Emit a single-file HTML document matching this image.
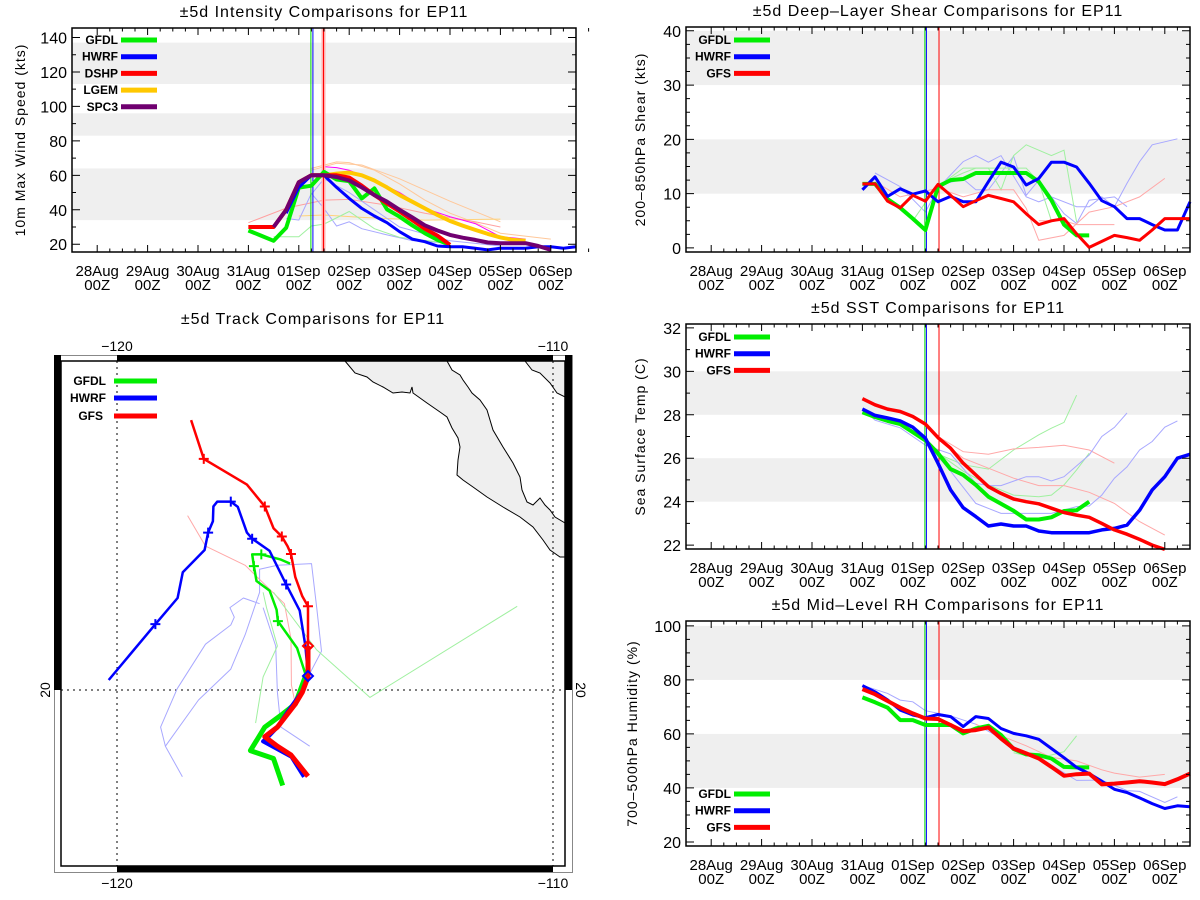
<!DOCTYPE html>
<html><head><meta charset="utf-8"><title>EP11 comparisons</title>
<style>
html,body{margin:0;padding:0;background:#fff;}
svg{display:block;font-family:"Liberation Sans",sans-serif;}
</style></head>
<body>
<svg id="fig" width="1200" height="900" viewBox="0 0 1200 900" xmlns="http://www.w3.org/2000/svg">
<rect x="0" y="0" width="1200" height="900" fill="#fff"/>
<g id="trackStatic">
  <text x="313" y="324" font-size="16" text-anchor="middle" letter-spacing="1">±5d Track Comparisons for EP11</text>
  <path d="M345,361 L355,373 L367,377 L373,382 L383,387 L393,393 L402,392 L410,393 L412,387 L413,393 L427,403 L440,412 L447,417 L452,428 L458,438 L460,447 L458,460 L457,475 L463,480 L473,487 L487,497 L503,507 L520,517 L533,527 L543,540 L550,550 L560,557 L565,557 L565,523 L555,517 L550,510 L545,505 L540,498 L533,505 L527,502 L522,490 L520,477 L513,463 L503,447 L493,430 L487,410 L480,400 L472,393 L468,387 L463,380 L460,375 L452,370 L447,361 Z" fill="#efefef" stroke="#000" stroke-width="1"/>
  <path d="M525,361 L532,370 L540,373 L550,383 L557,393 L565,397 L565,361 Z" fill="#efefef" stroke="#000" stroke-width="1"/>
  <rect x="54.5" y="355.5" width="518" height="517" fill="none" stroke="#888" stroke-width="1"/>
  <rect x="61" y="361" width="504" height="505" fill="none" stroke="#000" stroke-width="1.5"/>
  <rect x="54" y="355" width="7" height="335" fill="#000"/>
  <rect x="565" y="355" width="7" height="335" fill="#000"/>
  <rect x="117" y="355" width="436" height="6" fill="#000"/>
  <rect x="117" y="866" width="436" height="6" fill="#000"/>
  <line x1="117" y1="361" x2="117" y2="866" stroke="#000" stroke-dasharray="2,4"/>
  <line x1="553" y1="361" x2="553" y2="866" stroke="#000" stroke-dasharray="2,4"/>
  <line x1="61" y1="690" x2="565" y2="690" stroke="#000" stroke-dasharray="2,4"/>
  <text x="117" y="351" font-size="14" text-anchor="middle">−120</text>
  <text x="553" y="351" font-size="14" text-anchor="middle">−110</text>
  <text x="117" y="888" font-size="14" text-anchor="middle">−120</text>
  <text x="553" y="888" font-size="14" text-anchor="middle">−110</text>
  <text transform="translate(50,690) rotate(-90)" font-size="14" text-anchor="middle">20</text>
  <text transform="translate(576,690) rotate(90)" font-size="14" text-anchor="middle">20</text>
  <g font-size="12" font-weight="bold">
    <text x="106" y="385" text-anchor="end">GFDL</text>
    <line x1="114" y1="381" x2="157" y2="381" stroke="#00ee00" stroke-width="5"/>
    <text x="106" y="402" text-anchor="end">HWRF</text>
    <line x1="114" y1="398" x2="157" y2="398" stroke="#0000ff" stroke-width="5"/>
    <text x="103" y="420" text-anchor="end">GFS</text>
    <line x1="114" y1="416" x2="157" y2="416" stroke="#ff0000" stroke-width="5"/>
  </g>
</g>
<g id="dyn"></g>
</svg>
<script>
const NS='http://www.w3.org/2000/svg';
const dayLabels=['28Aug','29Aug','30Aug','31Aug','01Sep','02Sep','03Sep','04Sep','05Sep','06Sep'];
const intTicks=[20,40,60,80,100,120,140];
const shearTicks=[0,10,20,30,40];
const sstTicks=[22,24,26,28,30,32];
const rhTicks=[20,40,60,80,100];
const intBands=[[34,64],[83,96],[113,137]];
const shearBands=[[10,20],[30,40]];
const sstBands=[[24,26],[28,30]];
const rhBands=[[40,60],[80,100]];
const intMarkTimes=[4.24,4.28,4.49];
const envMarkTimes=[4.24,4.27,4.52];

const intGFDL=[28,25,22,29.6,52.8,54,62,57.6,56.6,46.6,52.4,40.2,36,31,26.4,22.5,19.6];
const intHWRF=[38,53,60,60,53,46.6,40.8,36.4,32.5,27.3,23,21.5,19,18.6,18.6,17.7,16.7,17.7,17.7,17.7,18.6,18.6,17.7,18.6];
const intDSHP=[30,30,30,40,56,60,60,60,58.7,54,48.5,43.7,39,34,29,25,19.6];
const intLGEM=[30,30,30,40,56,60,60,61,61.6,60,57,53,48.5,44.7,40.8,37,33.5,30.8,28.3,26,24,22.5,22];
const intSPC3=[30,30,30,40,56,60,60,59,57,53,48.5,44.7,40,35.6,31,28,25.4,23.8,22.5,21,20.6,20.6,20.6,19,16.7];
const intMagT=[4.5,4.75,5,5.25,5.5,6,6.5,7,7.5,8,8.5];
const intMagV=[65,64.5,63,60,57,50,40.8,36,32,24.4,23];
const intOr1T=[4.25,4.75,5,5.5,6,6.5,7,7.5,8,9];
const intOr1V=[64,67.8,67.4,63,55,45.6,38,32.5,26.4,23];
const intOr2T=[4.25,4.75,5.25,6,7,8];
const intOr2V=[63,67,66,58,45,33];
const intOr3T=[4,4.5,5.25,6.5,8];
const intOr3V=[36.4,37,35.6,34,34.6];
const intRdT=[3,3.75,4.5,5,5.75,6.5,7.5,8];
const intRdV=[32.5,41,45.6,46,42.7,38,33,30];
const intBl1T=[3.75,4,4.25,4.5,4.75,5,5.25,5.75,6.25,7];
const intBl1V=[35,34,49.5,40.8,30.6,33,29,25.4,22.1,20.6];
const intBl2T=[4.25,4.5,5,5.5,6,7,8];
const intBl2V=[49,58,50,40,30,22,19];
const intGrT=[3.5,4,4.25,4.5,5,5.5,6,7];
const intGrV=[24.4,24.4,30.6,31.7,39,29,24,20.6];

const shHWRF=[10.7,13.1,9.5,10.9,9.9,10.5,8.5,9.5,8.5,8.5,12.2,15.8,14.9,11.6,12.8,15.8,15.8,14.9,11.9,8.7,7.6,5.4,5.4,4.3,3.3,3.3,8.5];
const shGFS=[11.8,11.8,8.6,7.4,9.7,8.6,11.7,9.7,7.6,8.7,9.7,9.1,8.5,6.3,4.3,5,5.4,2.6,0.1,1.2,2.3,1.9,1.4,3.3,5.4,5.4,5.4];
const shGFDL=[11.8,11.8,9,7.4,5.4,3.3,11.3,12.5,12.7,13.8,13.8,13.8,13.8,13.8,12.2,8.8,4.3,2.3,2.3];
const shB1T=[3.25,3.75,4.25,4.5,5,5.25,5.5,5.75,6.25,6.5,6.75,7.25,7.5,7.75,8,8.25,8.5,8.75,9.25];
const shB1V=[13.8,11.3,6.6,11,15.9,17,15.8,17,9.4,8.5,9.4,7.6,7.6,9.4,7.6,11.9,15.9,19,20.1];
const shB2T=[4.5,5,5.25,5.5,6,6.25,6.5,7,7.25,7.5,8,8.25];
const shB2V=[11.5,12.7,10.7,10.7,16.9,9.7,12.5,6.3,4.5,8.8,9.4,7.6];
const shG1T=[4.5,5,5.5,5.75,6,6.25,6.75,7,7.25];
const shG1V=[11.3,14.7,14.7,10.7,17,19,17,18,4.8];
const shG2T=[4,4.5,5,5.25,6,6.25,6.5,6.75];
const shG2V=[5,11.7,13.8,14.7,14.7,14.7,12.2,5];
const shR1T=[3.25,3.75,4.5,5,5.5,6,6.25,6.5,7,7.5,8,8.5,9];
const shR1V=[12.2,9.4,11,9.4,10.7,10.7,7.3,1.4,2.3,6.6,7.6,9.4,12.8];
const shR2T=[6.5,7,7.25,8];
const shR2V=[5,5,4.3,4.3];

const sstGFS=[28.74,28.46,28.26,28.15,27.92,27.57,26.95,26.46,25.77,25.23,24.69,24.38,24.12,24,23.9,23.7,23.5,23.38,23.28,23,22.7,22.5,22.26,22,21.8];
const sstHWRF=[28.26,27.97,27.85,27.72,27.43,26.92,25.77,24.54,23.72,23.31,22.88,22.97,22.88,22.88,22.65,22.57,22.57,22.57,22.57,22.7,22.77,22.92,23.6,24.54,25.15,26,26.18];
const sstGFDL=[28.12,27.9,27.72,27.57,27.2,26.82,26.23,25.5,25.23,24.77,24.23,23.9,23.58,23.18,23.18,23.28,23.57,23.6,24];
const sstG1T=[4.25,4.5,5,5.5,6,6.5,6.75,7,7.25];
const sstG1V=[26.85,26.2,25.7,25.5,26.38,27.08,27.38,27.65,28.9];
const sstG2T=[4.5,5,5.5,6,6.5,6.75,7,7.25,7.5];
const sstG2V=[26.23,25.4,24.77,24.3,24.23,24.3,24.77,25.46,26.23];
const sstR1T=[4.5,5,5.5,6,6.5,7,7.5,8];
const sstR1V=[27,26.3,26.18,26.43,26.5,26.6,26.38,25.77];
const sstR2T=[4.5,5,5.5,6,6.5,7,7.5,8,8.5,9];
const sstR2V=[26.9,26,25.54,25.08,24.74,24.74,24.43,23.92,23.08,22.46];
const sstB1T=[3,3.25,3.75,4.25,4.75,5.25,5.5,5.75,6.25,6.5,6.75,7,7.5,7.75,8,8.25];
const sstB1V=[28.3,27.75,27.4,26.6,26.2,24.85,24.74,24.74,25.15,25.15,24.95,25.15,26.15,27,27.42,28.08];
const sstB2T=[4.25,4.75,5.25,5.75,6.25,6.75,7.25,7.5,7.75,8,8.25,8.5,8.75,9,9.25];
const sstB2V=[26.75,25.4,23.92,23.46,23.46,23.46,23.77,23.8,24.3,25.08,25.6,26.38,26.77,27.43,27.72];

const rhHWRF=[77.9,75.6,72.6,68.8,67,66,67.2,66.4,62.7,66.4,65.7,62,60.2,59.3,58,54.6,51.2,47.6,45.3,42.5,39.5,38.3,36.3,34.2,32.4,33.4,33];
const rhGFS=[76.6,74.7,72.2,69.7,67.6,65.7,65.5,63.3,61,61.4,62.4,58.3,54.6,52.8,50.9,47.8,44.5,45.1,45.3,41.3,41.6,42,42.5,42,41.4,43.2,45.3];
const rhGFDL=[73.5,71.7,69.7,65.1,65.1,63.3,63.3,63.3,60.2,62,63,59.6,54.4,52.4,52.1,50.9,47.8,47.6,47.6];
const rhBT=[3,3.5,3.75,4,4.25,4.75,5.25,5.75,6.25,6.75,7.25,7.75,8.25,8.5,9,9.25];
const rhBV=[78,75,72.5,71.9,68.6,66.7,63.6,58.3,52.4,48.4,42.8,42.9,39,38.7,34.6,36.7];
const rhRT=[5.25,5.75,6.25,6.75,7.25,7.75,8,8.5,9];
const rhRV=[63.6,59.3,55.6,51.3,50,46.7,45.5,44,45];
const rhGT=[6,6.5,7,7.25];
const rhGV=[53,51,53.4,59.3];

const trkGFSlon=[-118.30,-118.01,-117.02,-116.61,-116.41,-116.22,-116.09,-116.01,-115.91,-115.75,-115.62,-115.62,-115.62,-115.75,-115.91,-116.32,-116.61,-116.32,-116.01,-115.62];
const trkGFSlat=[26.19,25.30,24.71,24.21,23.71,23.52,23.30,23.12,22.59,22.15,21.92,21.01,20.30,19.95,19.68,19.15,18.93,18.71,18.51,18.02];
const trkHWRFlon=[-120.19,-119.12,-118.61,-118.49,-117.99,-117.91,-117.80,-117.79,-117.70,-117.39,-117.23,-117.02,-116.90,-116.50,-116.12,-115.81,-115.68,-115.62,-115.75,-116.08,-116.32,-116.53,-116.65,-116.0,-115.71];
const trkHWRFlat=[20.23,21.51,22.11,22.70,23.21,23.61,23.87,24.21,24.32,24.32,24.20,23.61,23.47,23.19,22.42,21.82,21.01,20.32,19.97,19.51,19.15,18.93,18.82,18.47,18.01];
const trkGFDLlon=[-116.03,-116.24,-116.69,-116.90,-116.86,-116.80,-116.50,-116.34,-116.31,-115.87,-115.67,-115.91,-116.24,-116.61,-116.94,-116.41,-116.20];
const trkGFDLlat=[22.90,22.99,23.11,23.11,22.84,22.50,22.28,21.84,21.58,20.96,20.34,19.68,19.42,19.15,18.61,18.43,17.81];
const trkGFSplus=[1,3,5,7,10];
const trkHWRFplus=[1,5,9,12,14];
const trkGFDLplus=[2,4,8];
const trkGFSdiamond=11;
const trkHWRFdiamond=17;
const trkGFSpast=11, trkHWRFpast=17, trkGFDLpast=10;
const trkFBAlon=[-118.50,-118.89,-119.0,-118.62,-117.97,-117.39,-117.31,-117.41,-117.10,-116.73];
const trkFBAlat=[18.01,18.71,19.15,20.03,21.05,21.49,21.67,21.89,22.11,21.98];
const trkFBBlon=[-118.89,-118.13,-117.39,-117.06,-116.73,-116.73,-116.32,-115.54,-115.42,-115.31,-115.62];
const trkFBBlat=[18.71,19.77,20.48,21.27,22.24,22.77,22.86,22.90,21.89,20.89,20.30];
const trkFBClon=[-115.58,-116.24,-116.32,-116.36,-116.65];
const trkFBClat=[18.71,19.15,19.95,21.01,21.89];
const trkFRlon=[-118.38,-117.97,-117.06,-116.16,-116.01,-116.0,-115.91];
const trkFRlat=[24.0,23.30,22.86,21.98,21.18,20.12,19.68];
const trkFGAlon=[-116.41,-115.42,-114.20,-110.82];
const trkFGAlat=[22.24,20.92,19.83,21.92];
const trkFGBlon=[-116.82,-116.65,-116.32,-116.57,-116.65];
const trkFGBlat=[19.24,20.30,21.01,21.89,22.24];

const root=document.getElementById('dyn');
function mk(tag,attrs,parent){const e=document.createElementNS(NS,tag);for(const k in attrs)e.setAttribute(k,attrs[k]);(parent||root).appendChild(e);return e;}

function makePanel(key,L,R,T,B,vmin,vmax,ticks,minor,bands,ytitle,title,ytitleX){
  const g=mk('g',{});
  
  
  const p={g,L,R,T,B,x:t=>L+(t+0.5)/10*(R-L),y:v=>B-(v-vmin)/(vmax-vmin)*(B-T)};
  for(const b of bands){
    const r=mk('rect',{x:L,y:p.y(b[1]),width:R-L,height:p.y(b[0])-p.y(b[1]),fill:'#efefef'},g);
    
    
  }
  const tt=mk('text',{x:(L+R)/2,y:T-11,'font-size':16,'text-anchor':'middle','letter-spacing':1},g);
  tt.textContent=title;
  
  
  const yt=mk('text',{transform:`translate(${ytitleX},${(T+B)/2}) rotate(-90)`,'font-size':14,'text-anchor':'middle','letter-spacing':1},g);
  yt.textContent=ytitle;
  
  
  p.layer=mk('g',{},g);
  p.frame=g;
  return p;
}
function finishPanel(p,key,vmin,vmax,ticks,minor){
  const g=p.frame;
  let d='';
  for(let i=0;i<=9;i++){const x=p.x(i);d+=`M${x},${p.B}v-7M${x},${p.T}v7`;}
  for(let i=0;i<10;i++){for(const f of [0.25,0.5,0.75]){const x=p.x(i+f);d+=`M${x},${p.B}v-3.5M${x},${p.T}v3.5`;}}
  for(const v of ticks){const y=p.y(v);d+=`M${p.L},${y}h8M${p.R},${y}h-8`;}
  for(let v=Math.ceil(vmin/minor)*minor;v<=vmax;v+=minor){const y=p.y(v);d+=`M${p.L},${y}h4M${p.R},${y}h-4`;}
  const tk=mk('path',{d,stroke:'#000','stroke-width':1,fill:'none'},g);
  
  
  const fr=mk('rect',{x:p.L,y:p.T,width:p.R-p.L,height:p.B-p.T,fill:'none',stroke:'#000','stroke-width':1.5},g);
  
  
  for(const v of ticks){
    const t=mk('text',{x:p.L-5,y:p.y(v)+6,'font-size':16,'text-anchor':'end'},g);
    t.textContent=String(v);
    
    
  }
  for(let i=0;i<dayLabels.length;i++){
    const t=mk('text',{x:p.x(i),y:p.B+24,'font-size':15,'text-anchor':'middle'},g);
    t.textContent=dayLabels[i];
    
    
    const t2=mk('text',{x:p.x(i),y:p.B+38,'font-size':15,'text-anchor':'middle'},g);
    t2.textContent='00Z';
    
    
  }
}
function series(p,t0,vals,color,w,name){
  const d=vals.map((v,i)=>(i?'L':'M')+p.x(t0+i*0.25).toFixed(1)+','+p.y(v).toFixed(1)).join('');
  const e=mk('path',{d,stroke:color,'stroke-width':w,fill:'none','stroke-linejoin':'round'},p.layer);
  
  
}
function thin(p,ts,vs,color,name){
  const d=ts.map((t,i)=>(i?'L':'M')+p.x(t).toFixed(1)+','+p.y(vs[i]).toFixed(1)).join('');
  const e=mk('path',{d,stroke:color,'stroke-width':1,fill:'none'},p.layer);
  
  
}
function marks(p,times,key,pale){
  const cols=['#00dd00','#0000ff','#ff0000'];
  times.forEach((t,i)=>{
    if(i===2&&pale){const b=mk('rect',{x:p.x(t)-2,y:p.T,width:4,height:p.B-p.T,fill:'#ffb0b0'},p.layer);
      
      }
    const l=mk('line',{x1:p.x(t),x2:p.x(t),y1:p.T,y2:p.B,stroke:cols[i],'stroke-width':1},p.layer);
    
    
  });
}
function legend(p,key,entries,x0,y0){
  entries.forEach((en,i)=>{
    const y=y0+i*16.7;
    const t=mk('text',{x:x0,y:y+4,'font-size':12,'font-weight':'bold','text-anchor':'end'},p.frame);
    t.textContent=en[0];
    
    
    const l=mk('line',{x1:x0+3,x2:x0+39,y1:y,y2:y,stroke:en[1],'stroke-width':5},p.frame);
    
    
  });
}
const GR='#00ee00',BL='#0000ff',RD='#ff0000',LB='#a8a8ff',LR='#ffa8a8',LG='#a0f0a0';

const pi=makePanel('intensity',72,576,28,252,15.5,145.5,intTicks,10,intBands,'10m Max Wind Speed (kts)','±5d Intensity Comparisons for EP11',25);
thin(pi,intOr1T,intOr1V,'#ffc89a','intensity-thin-orange-1');
thin(pi,intOr2T,intOr2V,'#ffc89a','intensity-thin-orange-2');
thin(pi,intOr3T,intOr3V,'#ffd27a','intensity-thin-orange-3');
thin(pi,intRdT,intRdV,'#ffa0a0','intensity-thin-red');
thin(pi,intBl1T,intBl1V,LB,'intensity-thin-blue-1');
thin(pi,intBl2T,intBl2V,LB,'intensity-thin-blue-2');
thin(pi,intGrT,intGrV,LG,'intensity-thin-green');
thin(pi,intMagT,intMagV,'#ff00ff','intensity-thin-magenta');
marks(pi,intMarkTimes,'intensity',true);
series(pi,3,intLGEM,'#ffc800',4,'intensity-lgem-line');
series(pi,3,intGFDL,GR,4,'intensity-gfdl-line');
series(pi,3,intDSHP,RD,4,'intensity-dshp-line');
series(pi,3.75,intHWRF,BL,3,'intensity-hwrf-line');
series(pi,3.5,intSPC3.slice(2),'#700070',4,'intensity-spc3-line');
finishPanel(pi,'intensity',15.5,145.5,intTicks,10);
legend(pi,'intensity',[['GFDL',GR],['HWRF',BL],['DSHP',RD],['LGEM','#ffc800'],['SPC3','#700070']],118,40);

const ps=makePanel('shear',686,1190,27,252,-0.75,40.7,shearTicks,2.5,shearBands,'200–850hPa Shear (kts)','±5d Deep–Layer Shear Comparisons for EP11',645);
thin(ps,shB1T,shB1V,LB,'shear-thin-blue-1');
thin(ps,shB2T,shB2V,LB,'shear-thin-blue-2');
thin(ps,shG1T,shG1V,LG,'shear-thin-green-1');
thin(ps,shG2T,shG2V,LG,'shear-thin-green-2');
thin(ps,shR1T,shR1V,LR,'shear-thin-red-1');
thin(ps,shR2T,shR2V,LR,'shear-thin-red-2');
marks(ps,envMarkTimes,'shear',false);
series(ps,3,shGFDL,GR,4,'shear-gfdl-line');
series(ps,3,shHWRF,BL,3,'shear-hwrf-line');
series(ps,3,shGFS,RD,3,'shear-gfs-line');
finishPanel(ps,'shear',-0.75,40.7,shearTicks,2.5);
legend(ps,'shear',[['GFDL',GR],['HWRF',BL],['GFS',RD]],731,40);

const pt=makePanel('sst',686,1190,324,549,21.82,32.18,sstTicks,1,sstBands,'Sea Surface Temp (C)','±5d SST Comparisons for EP11',645);
thin(pt,sstG1T,sstG1V,LG,'sst-thin-green-1');
thin(pt,sstG2T,sstG2V,LG,'sst-thin-green-2');
thin(pt,sstR1T,sstR1V,LR,'sst-thin-red-1');
thin(pt,sstR2T,sstR2V,LR,'sst-thin-red-2');
thin(pt,sstB1T,sstB1V,LB,'sst-thin-blue-1');
thin(pt,sstB2T,sstB2V,LB,'sst-thin-blue-2');
marks(pt,envMarkTimes,'sst',false);
series(pt,3,sstGFDL,GR,4,'sst-gfdl-line');
series(pt,3,sstHWRF,BL,3.5,'sst-hwrf-line');
series(pt,3,sstGFS,RD,3.5,'sst-gfs-line');
finishPanel(pt,'sst',21.82,32.18,sstTicks,1);
legend(pt,'sst',[['GFDL',GR],['HWRF',BL],['GFS',RD]],731,337);

const pr=makePanel('rh',686,1190,621,846,18.5,101.8,rhTicks,5,rhBands,'700–500hPa Humidity (%)','±5d Mid–Level RH Comparisons for EP11',637);
thin(pr,rhBT,rhBV,LB,'rh-thin-blue');
thin(pr,rhRT,rhRV,LR,'rh-thin-red');
thin(pr,rhGT,rhGV,LG,'rh-thin-green');
marks(pr,envMarkTimes,'rh',false);
series(pr,3,rhGFDL,GR,4,'rh-gfdl-line');
series(pr,3,rhHWRF,BL,3,'rh-hwrf-line');
series(pr,3,rhGFS,RD,4,'rh-gfs-line');
finishPanel(pr,'rh',18.5,101.8,rhTicks,5);
legend(pr,'rh',[['GFDL',GR],['HWRF',BL],['GFS',RD]],731,794);

const tg=mk('g',{});


const lx=lon=>117+(lon+120)*43.6;
const ly=lat=>690-(lat-20)*43.6;
function trk(lons,lats,color,w,name){
  const d=lons.map((lo,i)=>(i?'L':'M')+lx(lo).toFixed(1)+','+ly(lats[i]).toFixed(1)).join('');
  const e=mk('path',{d,stroke:color,'stroke-width':w,fill:'none','stroke-linejoin':'round'},tg);
  
  
}
function plus(lons,lats,idx,color,name){
  for(const i of idx){
    const x=lx(lons[i]),y=ly(lats[i]);
    const e=mk('path',{d:`M${x-5},${y}h10M${x},${y-5}v10`,stroke:color,'stroke-width':2},tg);
    
    
  }
}
function diamond(lons,lats,i,color,name){
  const x=lx(lons[i]),y=ly(lats[i]);
  const e=mk('path',{d:`M${x},${y-5}L${x+5},${y}L${x},${y+5}L${x-5},${y}Z`,stroke:color,'stroke-width':2,fill:'none'},tg);
  
  
}
trk(trkFBAlon,trkFBAlat,LB,1,'track-thin-blue-1');
trk(trkFBBlon,trkFBBlat,LB,1,'track-thin-blue-2');
trk(trkFBClon,trkFBClat,LB,1,'track-thin-blue-3');
trk(trkFRlon,trkFRlat,LR,1,'track-thin-red');
trk(trkFGAlon,trkFGAlat,LG,1,'track-thin-green-1');
trk(trkFGBlon,trkFGBlat,LG,1,'track-thin-green-2');
trk(trkGFDLlon.slice(0,trkGFDLpast+1),trkGFDLlat.slice(0,trkGFDLpast+1),GR,2.5,'track-gfdl-forecast');
trk(trkGFDLlon.slice(trkGFDLpast),trkGFDLlat.slice(trkGFDLpast),GR,5,'track-gfdl-past');
trk(trkHWRFlon.slice(0,trkHWRFpast+1),trkHWRFlat.slice(0,trkHWRFpast+1),BL,2.5,'track-hwrf-forecast');
trk(trkHWRFlon.slice(trkHWRFpast),trkHWRFlat.slice(trkHWRFpast),BL,4,'track-hwrf-past');
trk(trkGFSlon.slice(0,trkGFSpast+1),trkGFSlat.slice(0,trkGFSpast+1),RD,2.5,'track-gfs-forecast');
trk(trkGFSlon.slice(trkGFSpast),trkGFSlat.slice(trkGFSpast),RD,5,'track-gfs-past');
plus(trkGFDLlon,trkGFDLlat,trkGFDLplus,GR,'track-gfdl-marker');
plus(trkHWRFlon,trkHWRFlat,trkHWRFplus,BL,'track-hwrf-marker');
plus(trkGFSlon,trkGFSlat,trkGFSplus,RD,'track-gfs-marker');
diamond(trkGFSlon,trkGFSlat,trkGFSdiamond,RD,'track-gfs-current');
diamond(trkHWRFlon,trkHWRFlat,trkHWRFdiamond,BL,'track-hwrf-current');
</script>
</body></html>
